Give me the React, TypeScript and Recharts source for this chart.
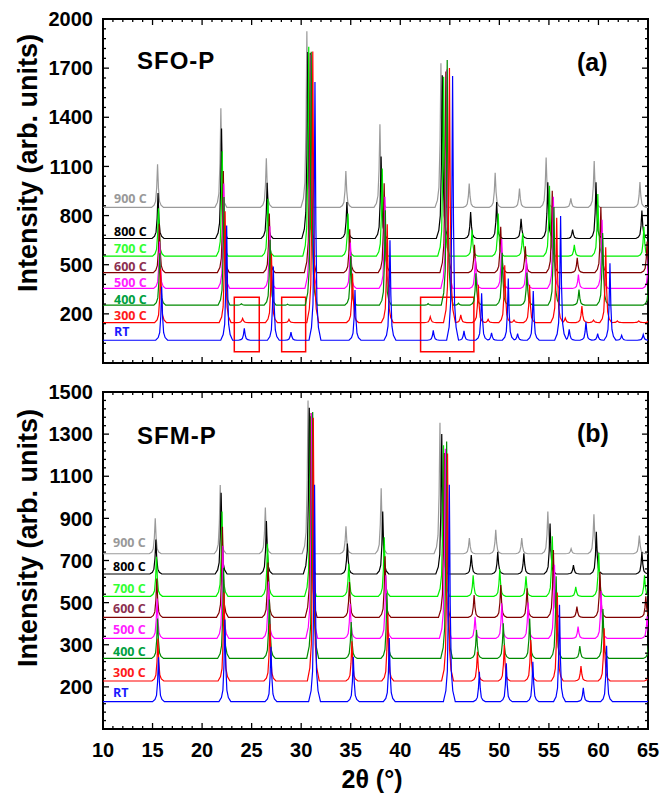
import React from "react";
import { LineChart, Line, XAxis, YAxis, ReferenceArea } from "recharts";

// series, bottom to top
const temps = ["RT", "300 C", "400 C", "500 C", "600 C", "700 C", "800 C", "900 C"];
const lineColors = ["#0000ff", "#ff0000", "#008a00", "#ff00ff", "#800000", "#00ee00", "#000000", "#9a9a9a"];
const labelColors = ["#1a1aff", "#ff1a1a", "#00a040", "#ff22ff", "#8c3050", "#33ff33", "#000000", "#999999"];

const xMajorTicks = [10, 15, 20, 25, 30, 35, 40, 45, 50, 55, 60, 65];
const xTickLabels = ["10", "15", "20", "25", "30", "35", "40", "45", "50", "55", "60", "65"];

// (a) SFO-P
const sfoYTicks = [200, 500, 800, 1100, 1400, 1700, 2000];
const sfoYLabels = ["200", "500", "800", "1100", "1400", "1700", "2000"];
const sfoBase = [39, 147, 253, 355, 452, 552, 660, 850];
const sfoShift = [1, 0.993, 0.988, 0.987, 0.985, 0.98, 0.977, 0.974];
// 2θ of the RT peaks
const sfoPeaks = [15.92, 22.48, 24.26, 27.19, 28.97, 31.39, 35.43, 38.96, 43.33, 45.28, 46.43, 48.21, 49.21, 50.9, 51.84, 53.42, 56.18, 57.05, 58.74, 59.92, 61.16, 62.34, 64.52, 65.9];
const sfoRT = [326, 700, 73, 450, 50, 1576, 306, 611, 60, 1613, 57, 287, 45, 377, 40, 300, 758, 66, 112, 40, 470, 30, 35, 230];
const sfo300 = [328, 680, 25, 420, 20, 1655, 300, 600, 36, 1554, 47, 230, 20, 350, 15, 230, 640, 28, 100, 15, 460, 10, 10, 220];
const sfo400 = [317, 660, 8, 400, 6, 1547, 300, 580, 10, 1497, 12, 195, 0, 320, 0, 200, 600, 0, 95, 0, 440, 0, 0, 210];
const sfo500 = [287, 640, 0, 380, 0, 1427, 280, 560, 0, 1336, 0, 185, 0, 300, 0, 180, 560, 0, 85, 0, 420, 0, 0, 200];
const sfo600 = [298, 620, 0, 360, 0, 1340, 265, 546, 0, 1228, 0, 169, 0, 280, 0, 160, 500, 0, 90, 0, 400, 0, 0, 190];
const sfo700 = [293, 640, 0, 350, 0, 1278, 260, 536, 0, 1096, 0, 159, 0, 261, 0, 140, 430, 0, 70, 0, 380, 0, 0, 180];
const sfo800 = [277, 672, 0, 340, 0, 1138, 222, 501, 0, 996, 0, 161, 0, 222, 0, 120, 344, 0, 55, 0, 344, 0, 0, 171];
const sfo900 = [263, 605, 0, 300, 0, 1075, 222, 507, 0, 880, 0, 145, 0, 212, 0, 115, 304, 0, 55, 0, 283, 0, 0, 155];

// (b) SFM-P
const sfmYTicks = [100, 300, 500, 700, 900, 1100, 1300, 1500];
const sfmYLabels = ["200", "300", "500", "700", "900", "1100", "1300", "1500"];
const sfmBase = [30, 128, 235, 330, 430, 530, 636, 732];
const sfmShift = [1, 0.996, 0.994, 0.991, 0.989, 0.987, 0.983, 0.979];
const sfmPeaks = [15.6, 22.3, 26.95, 31.35, 35.26, 38.89, 44.95, 47.98, 50.7, 53.38, 56.07, 58.47, 60.82, 65.5];
const sfmRT = [210, 390, 260, 1030, 213, 302, 1030, 142, 182, 189, 460, 66, 265, 120];
const sfm300 = [202, 420, 270, 1250, 188, 320, 1080, 139, 171, 194, 420, 71, 250, 115];
const sfm400 = [190, 430, 280, 1170, 173, 310, 1030, 135, 167, 190, 390, 59, 235, 110];
const sfm500 = [190, 440, 270, 1070, 165, 300, 900, 103, 167, 170, 350, 56, 225, 105];
const sfm600 = [185, 430, 260, 970, 168, 290, 780, 106, 154, 138, 320, 51, 215, 100];
const sfm700 = [188, 402, 250, 855, 155, 280, 717, 100, 130, 95, 285, 45, 205, 100];
const sfm800 = [164, 386, 251, 789, 144, 296, 664, 90, 105, 98, 240, 42, 200, 104];
const sfm900 = [168, 326, 220, 728, 130, 311, 622, 75, 114, 75, 200, 24, 187, 87];

// peak outline used for every reflection
const profileOffset = [-0.6, -0.35, -0.2, -0.09, 0, 0.09, 0.2, 0.35, 0.6];
const profileFrac = [0, 0.05, 0.14, 0.45, 1, 0.45, 0.14, 0.05, 0];

const PLOT_LEFT = 103;
const PLOT_RIGHT = 648;
const W = 661;
const boldFont = "'Liberation Sans', Arial, Helvetica, sans-serif";

// contribution of one peak at position x (outline is piecewise linear)
const peakAt = (x: number, centre: number, h: number) => {
  const d = x - centre;
  if (d <= profileOffset[0] || d >= profileOffset[profileOffset.length - 1]) return 0;
  for (let k = 1; k < profileOffset.length; k++) {
    if (d <= profileOffset[k]) {
      const t = (d - profileOffset[k - 1]) / (profileOffset[k] - profileOffset[k - 1]);
      return h * (profileFrac[k - 1] + t * (profileFrac[k] - profileFrac[k - 1]));
    }
  }
  return 0;
};

const buildSeries = (base: number, shift: number, peaks: number[], heights: number[]) => {
  const centres = peaks.map((p) => p * shift);
  const xs: number[] = [9, 67];
  centres.forEach((c, j) => {
    if (heights[j]) profileOffset.forEach((o) => xs.push(c + o));
  });
  xs.sort((a, b) => a - b);
  return xs.map((x) => ({
    x,
    y: base + centres.reduce((s, c, j) => s + (heights[j] ? peakAt(x, c, heights[j]) : 0), 0),
  }));
};

const steps = (from: number, to: number, step: number) => {
  const out: number[] = [];
  for (let v = from; v <= to; v += step) out.push(v);
  return out;
};

const makeYTick = (majors: number[], labels: string[]) => (props: any) => {
  const { y, payload } = props;
  const i = majors.indexOf(payload.value);
  const len = i >= 0 ? 6 : 3;
  return (
    <g>
      <line x1={PLOT_LEFT} x2={PLOT_LEFT + len} y1={y} y2={y} stroke="#000" strokeWidth={1.3} />
      <line x1={PLOT_RIGHT} x2={PLOT_RIGHT - len} y1={y} y2={y} stroke="#000" strokeWidth={1.3} />
      {i >= 0 && (
        <text x={PLOT_LEFT - 10} y={y} dy="0.36em" textAnchor="end" fontSize={20} fontWeight="bold" fontFamily={boldFont} fill="#000">
          {labels[i]}
        </text>
      )}
    </g>
  );
};

const makeXTick = (plotTop: number, plotBottom: number, showLabels: boolean) => (props: any) => {
  const { x, payload } = props;
  const i = xMajorTicks.indexOf(payload.value);
  const len = i >= 0 ? 6 : 3;
  return (
    <g>
      <line x1={x} x2={x} y1={plotBottom} y2={plotBottom - len} stroke="#000" strokeWidth={1.3} />
      <line x1={x} x2={x} y1={plotTop} y2={plotTop + len} stroke="#000" strokeWidth={1.3} />
      {showLabels && i >= 0 && (
        <text x={x} y={plotBottom + 21} dy="0.36em" textAnchor="middle" fontSize={20} fontWeight="bold" fontFamily={boldFont} fill="#000">
          {xTickLabels[i]}
        </text>
      )}
    </g>
  );
};

interface PanelProps {
  height: number;
  plotTop: number;
  plotBottom: number;
  yDomain: [number, number];
  yTicks: number[];
  yLabels: string[];
  yMinor: number[];
  series: { x: number; y: number }[][];
  showXLabels: boolean;
  boxes?: [number, number, number, number][];
}

const Panel: React.FC<PanelProps> = ({ height, plotTop, plotBottom, yDomain, yTicks, yLabels, yMinor, series, showXLabels, boxes = [] }) => {
  const allY = [...yMinor, ...yTicks].sort((a, b) => a - b);
  const allX = steps(10, 65, 1);
  return (
    <LineChart
      width={W}
      height={height}
      margin={{ top: plotTop, right: W - PLOT_RIGHT, bottom: height - plotBottom - 2, left: PLOT_LEFT - 2 }}
    >
      <XAxis
        dataKey="x"
        type="number"
        domain={[10, 65]}
        allowDataOverflow
        ticks={allX}
        interval={0}
        height={2}
        axisLine={false}
        tickLine={false}
        tick={makeXTick(plotTop, plotBottom, showXLabels)}
      />
      <YAxis
        dataKey="y"
        type="number"
        domain={yDomain}
        allowDataOverflow
        ticks={allY}
        interval={0}
        width={2}
        axisLine={false}
        tickLine={false}
        tick={makeYTick(yTicks, yLabels)}
      />
      {series
        .map((d, i) => ({ d, i }))
        .reverse()
        .map(({ d, i }) => (
          <Line key={temps[i]} data={d} dataKey="y" type="linear" dot={false} stroke={lineColors[i]} strokeWidth={1.2} isAnimationActive={false} />
        ))}
      {boxes.map((b, k) => (
        <ReferenceArea key={k} x1={b[0]} x2={b[1]} y1={b[2]} y2={b[3]} fill="none" stroke="#ff0000" strokeWidth={1.5} ifOverflow="visible" />
      ))}
      <ReferenceArea x1={10} x2={65} y1={yDomain[0]} y2={yDomain[1]} fill="none" stroke="#000" strokeWidth={2} ifOverflow="visible" />
    </LineChart>
  );
};

const abs = (left: number, top: number, extra: React.CSSProperties = {}): React.CSSProperties => ({
  position: "absolute",
  left,
  top,
  transform: "translateY(-50%)",
  whiteSpace: "nowrap",
  lineHeight: 1,
  ...extra,
});

const sfoLabelY = [332, 316, 300, 283, 267, 249, 232, 199];
const sfmLabelY = [693, 673, 652, 630, 609, 589, 567, 543];

export default function App() {
  const sfoHeights = [sfoRT, sfo300, sfo400, sfo500, sfo600, sfo700, sfo800, sfo900];
  const sfmHeights = [sfmRT, sfm300, sfm400, sfm500, sfm600, sfm700, sfm800, sfm900];
  const sfoSeries = sfoHeights.map((h, i) => buildSeries(sfoBase[i], sfoShift[i], sfoPeaks, h));
  const sfmSeries = sfmHeights.map((h, i) => buildSeries(sfmBase[i], sfmShift[i], sfmPeaks, h));
  const boxes: [number, number, number, number][] = [
    [23.25, 25.77, -32, 302],
    [28.03, 30.45, -32, 302],
    [42.05, 47.43, -32, 302],
  ];

  const bigText: React.CSSProperties = { fontFamily: boldFont, fontWeight: "bold", color: "#000" };
  const seriesText: React.CSSProperties = {
    fontFamily: "'Liberation Sans Narrow', 'Open Sans', sans-serif",
    fontSize: 12.5,
    fontWeight: "bold",
    height: 12,
    lineHeight: "12px",
    overflow: "visible",
  };

  return (
    <div style={{ position: "absolute", left: 0, top: 0, width: W, height: 798, background: "#fff", overflow: "hidden" }}>
      <div style={{ position: "absolute", left: 0, top: 0 }}>
        <Panel
          height={380}
          plotTop={19}
          plotBottom={363}
          yDomain={[-100, 2000]}
          yTicks={sfoYTicks}
          yLabels={sfoYLabels}
          yMinor={steps(-100, 2000, 60).filter((v) => !sfoYTicks.includes(v))}
          series={sfoSeries}
          showXLabels={false}
          boxes={boxes}
        />
      </div>
      <div style={{ position: "absolute", left: 0, top: 380 }}>
        <Panel
          height={418}
          plotTop={12}
          plotBottom={349}
          yDomain={[-100, 1500]}
          yTicks={sfmYTicks}
          yLabels={sfmYLabels}
          yMinor={steps(-100, 1500, 40).filter((v) => !sfmYTicks.includes(v))}
          series={sfmSeries}
          showXLabels={true}
        />
      </div>

      <div style={abs(137, 61, { ...bigText, fontSize: 24, letterSpacing: 1 })}>SFO-P</div>
      <div style={abs(577, 62, { ...bigText, fontSize: 25 })}>(a)</div>
      <div style={abs(137, 436, { ...bigText, fontSize: 24, letterSpacing: 1 })}>SFM-P</div>
      <div style={abs(577, 433, { ...bigText, fontSize: 25 })}>(b)</div>

      {temps.map((t, i) => (
        <div key={"a" + t} style={abs(114, sfoLabelY[i], { ...seriesText, color: labelColors[i] })}>
          {t}
        </div>
      ))}
      {temps.map((t, i) => (
        <div key={"b" + t} style={abs(113, sfmLabelY[i], { ...seriesText, color: labelColors[i] })}>
          {t}
        </div>
      ))}

      <div style={{ ...bigText, position: "absolute", left: 28, top: 163, fontSize: 27, whiteSpace: "nowrap", lineHeight: 1, transform: "translate(-50%, -50%) rotate(-90deg)" }}>
        Intensity (arb. units)
      </div>
      <div style={{ ...bigText, position: "absolute", left: 28, top: 538, fontSize: 27, whiteSpace: "nowrap", lineHeight: 1, transform: "translate(-50%, -50%) rotate(-90deg)" }}>
        Intensity (arb. units)
      </div>
      <div style={{ ...bigText, position: "absolute", left: 372, top: 779, fontSize: 25, whiteSpace: "nowrap", lineHeight: 1, transform: "translate(-50%, -50%)" }}>
        2θ (°)
      </div>
    </div>
  );
}
